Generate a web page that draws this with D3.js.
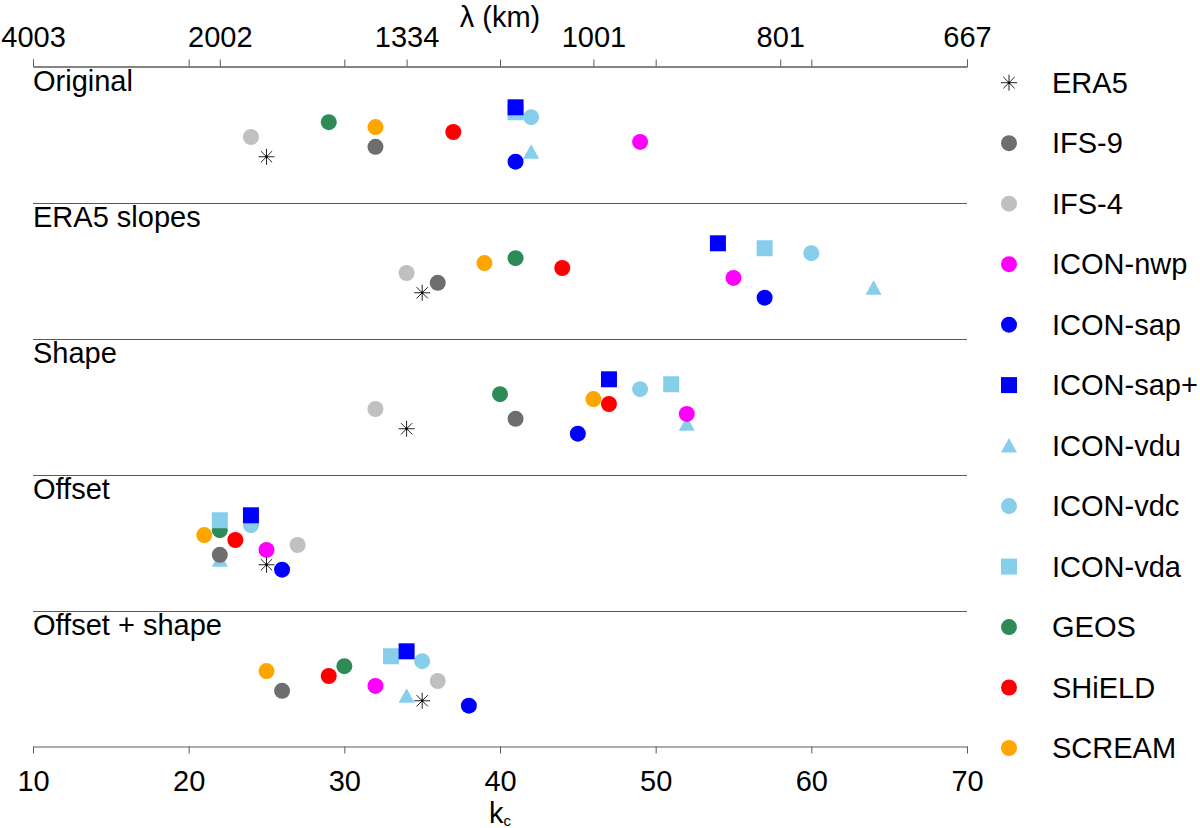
<!DOCTYPE html>
<html>
<head>
<meta charset="utf-8">
<script src="https://cdn.jsdelivr.net/npm/d3@7"></script>
<style>
  body { margin: 0; background: #fff; }
  text { font-family: "Liberation Sans", Arial, Helvetica, sans-serif; fill: #000; }
</style>
</head>
<body>
<div id="chart"></div>
<script>
// data
const models = ["ERA5", "IFS-9", "IFS-4", "ICON-nwp", "ICON-sap", "ICON-sap+",
                "ICON-vdu", "ICON-vdc", "ICON-vda", "GEOS", "SHiELD", "SCREAM"];
const panels = ["Original", "ERA5 slopes", "Shape", "Offset", "Offset + shape"];

/* k_c per model, same order as models */
const kOriginal    = [25, 32, 24, 49, 41, 41, 42, 42, 41, 29, 37, 32];
const kEra5Slopes  = [35, 36, 34, 55, 57, 54, 64, 60, 57, 41, 44, 39];
const kShape       = [34, 41, 32, 52, 45, 47, 52, 49, 51, 40, 47, 46];
const kOffset      = [25, 22, 27, 25, 26, 24, 22, 24, 22, 22, 23, 21];
const kOffsetShape = [35, 26, 36, 32, 38, 34, 34, 35, 33, 30, 29, 25];
const panelValues = [kOriginal, kEra5Slopes, kShape, kOffset, kOffsetShape];

/* vertical stacking of models inside each panel, top to bottom */
const rowOrder = ["ICON-sap+", "ICON-vda", "ICON-vdc", "GEOS", "SCREAM", "SHiELD",
                  "IFS-4", "ICON-nwp", "IFS-9", "ICON-vdu", "ERA5", "ICON-sap"];

const kTicks = [10, 20, 30, 40, 50, 60, 70];
const lambdaLabels = ["4003", "2002", "1334", "1001", "801", "667"];

const colors = {
  "ERA5": "#222", "IFS-9": "#6e6e6e", "IFS-4": "#c0c0c0", "ICON-nwp": "#ff00ff",
  "ICON-sap": "#0000ff", "ICON-sap+": "#0000ff", "ICON-vdu": "#87ceeb",
  "ICON-vdc": "#87ceeb", "ICON-vda": "#87ceeb", "GEOS": "#2e8b57",
  "SHiELD": "#ff0000", "SCREAM": "#ffa500"
};
const shapes = {
  "ERA5": "star", "ICON-sap+": "square", "ICON-vda": "square", "ICON-vdu": "triangle"
};
/* draw order: triangles, circles, squares, then ERA5 on top */
const drawOrder = ["ICON-vdu", "IFS-9", "IFS-4", "ICON-nwp", "ICON-sap", "ICON-vdc",
                   "GEOS", "SHiELD", "SCREAM", "ICON-vda", "ICON-sap+", "ERA5"];

const W = 1200, H = 828;
const fontSize = 29;
const axisColor = "#5a5a5a";

const svg = d3.select("#chart").append("svg")
  .attr("width", W).attr("height", H);

const x = d3.scaleLinear().domain([10, 70]).range([33, 967]);
const y = d3.scaleLinear().domain([0, panels.length]).range([66.5, 746.5]);
const row = d3.scalePoint().domain(rowOrder).range([0.3, 0.7]);
const xLambda = d3.scalePoint().domain(lambdaLabels).range(x.range());

/* flatten into points */
const points = [];
panels.forEach((p, pi) => {
  drawOrder.forEach(m => {
    const mi = models.indexOf(m);
    points.push({ panel: pi, model: m, k: panelValues[pi][mi] });
  });
});

function markerPath(shape) {
  if (shape === "square") return d3.symbol(d3.symbolSquare, 256)();
  if (shape === "triangle") return "M0,-7.5L8,7L-8,7Z";
  if (shape === "star") {
    const r = 8, d = r * Math.SQRT1_2;
    return `M${-r},0L${r},0M0,${-r}L0,${r}M${-d},${-d}L${d},${d}M${-d},${d}L${d},${-d}`;
  }
  return d3.symbol(d3.symbolCircle, Math.PI * 64)();
}

function drawMarker(sel, m) {
  const shape = shapes[m];
  const path = sel.append("path").attr("d", markerPath(shape));
  if (shape === "star") {
    path.attr("fill", "none").attr("stroke", colors[m]).attr("stroke-width", 1);
    sel.append("circle").attr("r", 1.3).attr("fill", "#000");
  } else {
    path.attr("fill", colors[m]);
  }
}

/* panel separators */
svg.append("g").selectAll("line")
  .data(d3.range(1, panels.length))
  .join("line")
    .attr("x1", x(10)).attr("x2", x(70))
    .attr("y1", d => Math.round(y(d)) + 0.5).attr("y2", d => Math.round(y(d)) + 0.5)
    .attr("stroke", axisColor).attr("stroke-width", 1);

/* panel labels */
svg.append("g").selectAll("text")
  .data(panels)
  .join("text")
    .attr("x", x(10))
    .attr("y", (d, i) => y(i) + 24.5)
    .attr("font-size", fontSize)
    .text(d => d);

/* bottom axis */
const bottomAxis = svg.append("g")
  .attr("transform", `translate(0,${y(panels.length)})`)
  .call(d3.axisBottom(x).tickValues(kTicks).tickSize(7).tickSizeOuter(0).tickPadding(17));

/* top axis: unlabeled k ticks plus lambda labels */
const topTicks = svg.append("g")
  .attr("transform", `translate(0,${y(0)})`)
  .call(d3.axisTop(x).tickValues(kTicks).tickSize(7).tickSizeOuter(0).tickFormat(""));
const topLabels = svg.append("g")
  .attr("transform", `translate(0,${y(0)})`)
  .call(d3.axisTop(xLambda).tickSize(7).tickSizeOuter(0).tickPadding(12.5));

[bottomAxis, topTicks, topLabels].forEach(g => {
  g.attr("font-size", fontSize).attr("font-family", null);
  g.selectAll("path, line").attr("stroke", axisColor);
  g.selectAll("text").attr("fill", "#000");
});

/* axis titles */
svg.append("text")
  .attr("x", x(40)).attr("y", 27)
  .attr("text-anchor", "middle")
  .attr("font-size", fontSize)
  .text("λ (km)");

const kLabel = svg.append("text")
  .attr("x", x(40)).attr("y", 823)
  .attr("text-anchor", "middle")
  .attr("font-size", fontSize);
kLabel.append("tspan").text("k");
kLabel.append("tspan").attr("font-size", 15).attr("dy", 3).text("c");

/* markers */
svg.append("g").selectAll("g")
  .data(points)
  .join("g")
    .attr("transform", d => `translate(${x(d.k)},${y(d.panel + row(d.model))})`)
    .each(function(d) { drawMarker(d3.select(this), d.model); });

/* legend */
const legendStep = (748 - 82.7) / (models.length - 1);
const legend = svg.append("g").selectAll("g")
  .data(models)
  .join("g")
    .attr("transform", (d, i) => `translate(1009,${82.7 + i * legendStep})`);
legend.each(function(d) { drawMarker(d3.select(this), d); });
legend.append("text")
  .attr("x", 43)
  .attr("dy", "0.35em")
  .attr("font-size", fontSize)
  .text(d => d);
</script>
</body>
</html>
